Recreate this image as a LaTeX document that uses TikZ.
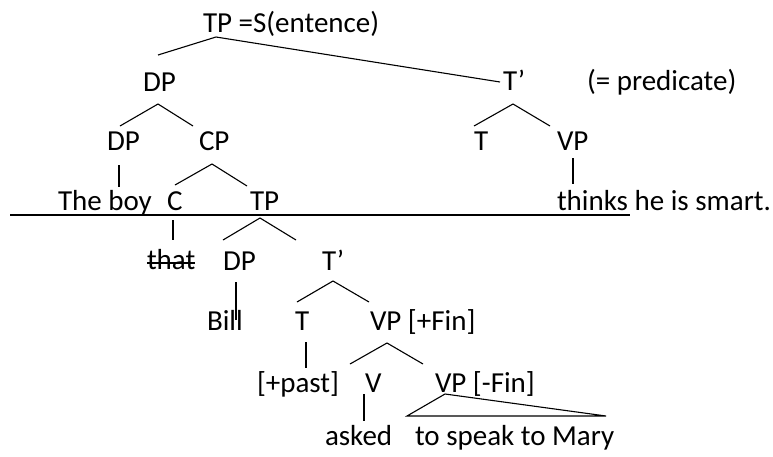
\documentclass[tikz,border=0pt]{standalone}
\usepackage{fontspec}
\setmainfont{Carlito}
\begin{document}
\begin{tikzpicture}[x=1pt,y=-1pt,
  lab/.style={anchor=base west,inner sep=0pt,outer sep=0pt,font=\fontsize{29}{34}\selectfont},
  br/.style={line width=1.1pt},
  bigline/.style={line width=1.8pt}]
\useasboundingbox (0,0) rectangle (773,456);
% nodes
\node[lab] (tp) at (203,32) {TP =S(entence)};
\node[lab] (dp1) at (143,91) {DP};
\node[lab] (tbar) at (503,90) {T’};
\node[lab] (pred) at (587,90) {(= predicate)};
\node[lab] (dp2) at (107,150) {DP};
\node[lab] (cp) at (199,150) {CP};
\node[lab] (t1) at (474,150) {T};
\node[lab] (vp1) at (557,150) {VP};
\node[lab] (boy) at (58,210) {The boy};
\node[lab] (c) at (167,210) {C};
\node[lab] (tp2) at (250,210) {TP};
\node[lab] (thinks) at (557,210) {thinks he is smart.};
\node[lab] (that) at (147,269) {that};
\node[lab] (dp3) at (223,270) {DP};
\node[lab] (tbar2) at (322,270) {T’};
\node[lab] (bill) at (207,330) {Bill};
\node[lab] (t2) at (295,330) {T};
\node[lab] (vpfin) at (370,330) {VP [+Fin]};
\node[lab] (past) at (257,392) {[+past]};
\node[lab] (v) at (365,392) {V};
\node[lab] (vpnf) at (435,392) {VP [-Fin]};
\node[lab] (asked) at (325,445) {asked};
\node[lab] (speak) at (415,445) {to speak to Mary};
\coordinate (lineL) at (10,215);
% branches
\draw[br] ([shift={(15,-36)}]dp1.base west) -- ([shift={(13,5)}]tp.base west) -- ([shift={(-3,-8)}]tbar.base west);
\draw[br] ([shift={(13,-24)}]dp2.base west) -- ([shift={(15,13)}]dp1.base west) -- ([shift={(-6,-24)}]cp.base west);
\draw[br] ([shift={(12,15)}]dp2.base west) -- ([shift={(61,-23)}]boy.base west);
\draw[br] ([shift={(8,-25)}]c.base west) -- ([shift={(13,14)}]cp.base west) -- ([shift={(-3,-24)}]tp2.base west);
\draw[br] ([shift={(0,-24)}]t1.base west) -- ([shift={(10,14)}]tbar.base west) -- ([shift={(-7,-24)}]vp1.base west);
\draw[br] ([shift={(16,8)}]vp1.base west) -- ([shift={(16,-26)}]thinks.base west);
\draw[bigline] (lineL) -- ([shift={(73,5)}]thinks.base west);
\draw[br] ([shift={(6,10)}]c.base west) -- ([shift={(26,-29)}]that.base west);
\draw[br] ([shift={(0,-30)}]dp3.base west) -- ([shift={(10,8)}]tp2.base west) -- ([shift={(-26,-30)}]tbar2.base west);
\draw[br] ([shift={(13,12)}]dp3.base west) -- ([shift={(29,-10)}]bill.base west);
\draw[br] ([shift={(2,-28)}]t2.base west) -- ([shift={(11,11)}]tbar2.base west) -- ([shift={(-1,-28)}]vpfin.base west);
\draw[br] ([shift={(11,12)}]t2.base west) -- ([shift={(49,-24)}]past.base west);
\draw[br] ([shift={(-15,-28)}]v.base west) -- ([shift={(17,13)}]vpfin.base west) -- ([shift={(-12,-28)}]vpnf.base west);
\draw[br] ([shift={(-1,2)}]v.base west) -- ([shift={(39,-24)}]asked.base west);
\draw[br,line join=miter] ([shift={(10,2)}]vpnf.base west) -- ([shift={(-8,-29)}]speak.base west) -- ([shift={(191,-29)}]speak.base west) -- cycle;
% strikethrough
\draw[line width=1.2pt] ([shift={(0,-6)}]that.base west) -- ([shift={(0,-6)}]that.base east);
\end{tikzpicture}
\end{document}
